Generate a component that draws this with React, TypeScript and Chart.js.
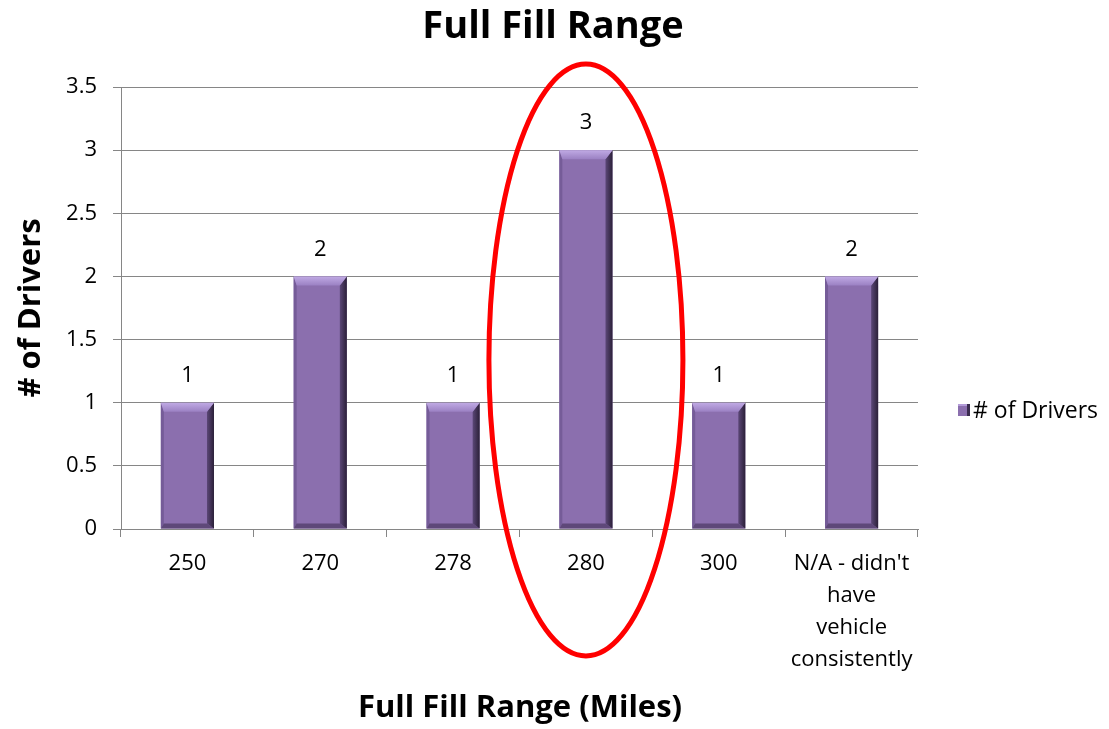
import React, { useEffect, useRef } from "react";
import { Chart, registerables } from "chart.js";

Chart.register(...registerables);

const categories: (string | string[])[] = ["250", "270", "278", "280", "300", ["N/A - didn't", "have", "vehicle", "consistently"]];
const driverCounts: number[] = [1, 2, 1, 3, 1, 2];
const seriesName = "# of Drivers";
const chartTitle = "Full Fill Range";
const xTitle = "Full Fill Range (Miles)";
const yTitle = "# of Drivers";
const highlightIndex = 3;

const FONT = "'Open Sans', 'DejaVu Sans', sans-serif";
const GRID = "#868686";

const decorPlugin = {
  id: "decor",
  afterDatasetsDraw(chart: any) {
    const ctx = chart.ctx as CanvasRenderingContext2D;
    const meta = chart.getDatasetMeta(0);
    meta.data.forEach((el: any, i: number) => {
      const { x, y, base, width } = el.getProps(["x", "y", "base", "width"], true);
      const l = x - width / 2, r = x + width / 2, t = y, b = base;
      const bv = 9;
      ctx.save();
      // left bevel
      ctx.fillStyle = "#755C98";
      ctx.beginPath();
      ctx.moveTo(l, t); ctx.lineTo(l + 3, t + bv); ctx.lineTo(l + 3, b - 5); ctx.lineTo(l, b); ctx.closePath(); ctx.fill();
      // bottom bevel
      ctx.fillStyle = "#5E4879";
      ctx.beginPath();
      ctx.moveTo(l, b); ctx.lineTo(l + 3, b - 5); ctx.lineTo(r - 7, b - 5); ctx.lineTo(r, b); ctx.closePath(); ctx.fill();
      // right bevel
      const gr = ctx.createLinearGradient(r - 7, 0, r, 0);
      gr.addColorStop(0, "#5B4777");
      gr.addColorStop(1, "#2B2038");
      ctx.fillStyle = gr;
      ctx.beginPath();
      ctx.moveTo(r, t); ctx.lineTo(r, b); ctx.lineTo(r - 7, b - 5); ctx.lineTo(r - 7, t + bv); ctx.closePath(); ctx.fill();
      // top bevel
      const gt = ctx.createLinearGradient(0, t, 0, t + bv);
      gt.addColorStop(0, "#C0AAE4");
      gt.addColorStop(1, "#9B81C3");
      ctx.fillStyle = gt;
      ctx.beginPath();
      ctx.moveTo(l, t); ctx.lineTo(r, t); ctx.lineTo(r - 7, t + bv); ctx.lineTo(l + 3, t + bv); ctx.closePath(); ctx.fill();
      // value label
      ctx.fillStyle = "#000";
      ctx.font = `22px ${FONT}`;
      ctx.textAlign = "center";
      ctx.textBaseline = "middle";
      ctx.fillText(String(driverCounts[i]), x, t - 27);
      ctx.restore();
    });
  },
  afterDraw(chart: any) {
    const ctx = chart.ctx as CanvasRenderingContext2D;
    const xs = chart.scales.x;
    const area = chart.chartArea;
    ctx.save();
    // titles
    ctx.fillStyle = "#000";
    ctx.textAlign = "center";
    ctx.textBaseline = "middle";
    ctx.font = `bold 38px ${FONT}`;
    ctx.fillText(chartTitle, 553, 27);
    ctx.font = `bold 31px ${FONT}`;
    ctx.fillText(xTitle, 520, 708);
    ctx.save();
    ctx.translate(31, 308);
    ctx.rotate(-Math.PI / 2);
    ctx.fillText(yTitle, 0, 0);
    ctx.restore();
    // legend
    const lx = 958, ly = 404;
    ctx.fillStyle = "#8B6FAE";
    ctx.fillRect(lx, ly, 12, 12);
    ctx.fillStyle = "#3A2C4E";
    ctx.fillRect(lx + 9, ly, 3, 12);
    ctx.fillStyle = "#B39BD8";
    ctx.fillRect(lx, ly, 9, 2);
    ctx.fillStyle = "#000";
    ctx.textAlign = "left";
    ctx.font = `23px ${FONT}`;
    ctx.fillText(seriesName, 973, 411);
    // highlight ellipse
    const cx = xs.getPixelForValue(highlightIndex);
    ctx.strokeStyle = "#FF0000";
    ctx.lineWidth = 5;
    ctx.beginPath();
    ctx.ellipse(cx, area.top + 273, 97, 296, 0, 0, Math.PI * 2);
    ctx.stroke();
    ctx.restore();
  },
};

export default function App() {
  const ref = useRef<HTMLCanvasElement>(null);
  useEffect(() => {
    document.body.style.margin = "0";
    const chart = new Chart(ref.current!, {
      type: "bar",
      data: {
        labels: categories,
        datasets: [
          {
            label: seriesName,
            data: driverCounts,
            backgroundColor: "#8B6FAE",
            borderWidth: 0,
            barPercentage: 0.4,
            categoryPercentage: 1,
          },
        ],
      },
      options: {
        responsive: false,
        animation: false,
        layout: { padding: { top: 87, right: 191, bottom: 0, left: 0 } },
        plugins: { legend: { display: false }, title: { display: false }, tooltip: { enabled: false } },
        scales: {
          x: {
            offset: true,
            grid: { offset: true, drawOnChartArea: false, color: GRID, tickLength: 8 },
            border: { display: true, color: GRID },
            ticks: { color: "#000", font: { family: FONT, size: 22, lineHeight: 1.45 }, padding: 11, maxRotation: 0, autoSkip: false },
            afterFit: (s: any) => { s.height = 200; },
          },
          y: {
            min: 0,
            max: 3.5,
            ticks: {
              stepSize: 0.5,
              color: "#000",
              font: { family: FONT, size: 22 },
              padding: 16,
              callback: (v: any) => String(Number(v)),
            },
            grid: { color: GRID, tickLength: 8 },
            border: { display: true, color: GRID },
            afterFit: (s: any) => { s.width = 121; },
          },
        },
      },
      plugins: [decorPlugin],
    });
    return () => chart.destroy();
  }, []);
  return (
    <div style={{ width: 1109, height: 729 }}>
      <canvas ref={ref} width={1109} height={729} style={{ display: "block" }} />
    </div>
  );
}
